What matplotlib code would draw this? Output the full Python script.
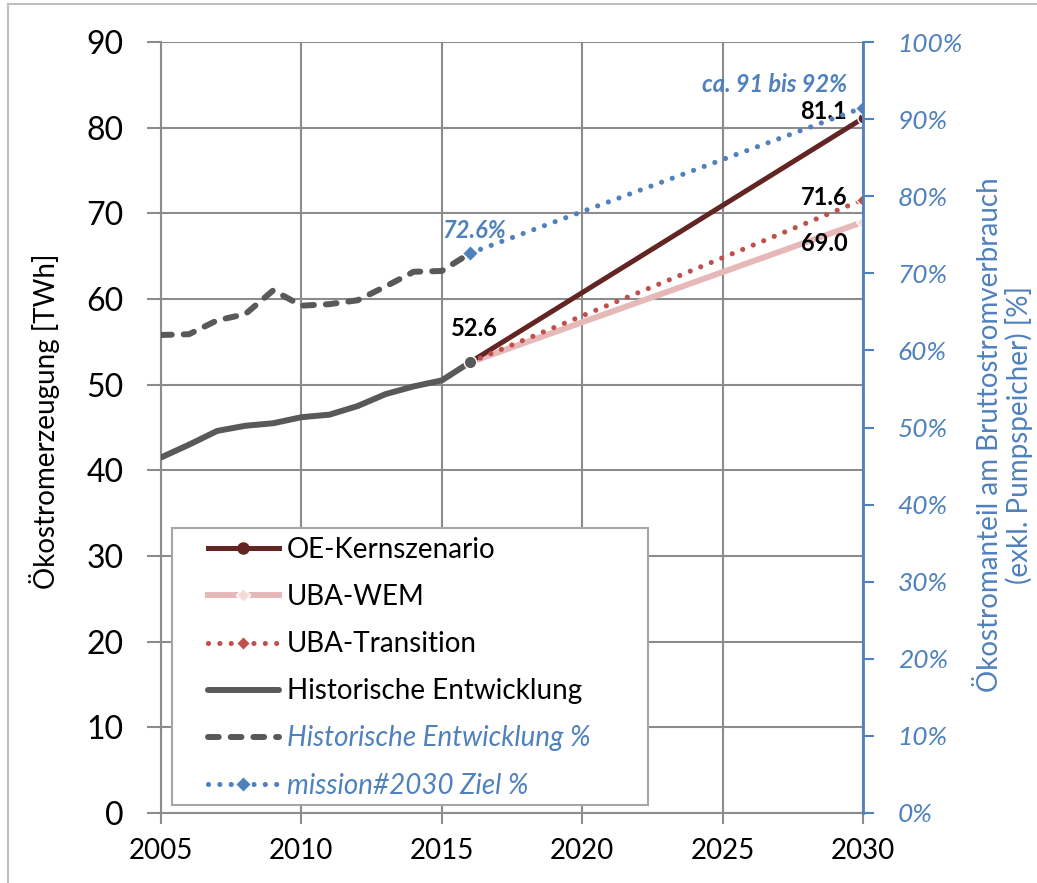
import matplotlib
matplotlib.use('Agg')
import matplotlib.pyplot as plt
from matplotlib.patches import Rectangle
from matplotlib.lines import Line2D
from matplotlib.ticker import FuncFormatter

plt.rcParams['font.family'] = ['Lato', 'DejaVu Sans']

# historische Entwicklung
hist_years = [2005, 2006, 2007, 2008, 2009, 2010, 2011, 2012, 2013, 2014, 2015, 2016]
hist_twh = [41.5, 43.0, 44.6, 45.2, 45.5, 46.2, 46.5, 47.5, 48.9, 49.8, 50.5, 52.6]
hist_pct = [62.0, 62.1, 63.9, 64.7, 67.8, 65.8, 66.0, 66.5, 68.3, 70.2, 70.3, 72.6]

# Szenarien
scen_years = [2016, 2030]
oe_kern = [52.6, 81.1]
uba_wem = [52.6, 69.0]
uba_trans = [52.6, 71.6]
ziel_pct = [72.6, 91.5]

labels = ['OE-Kernszenario', 'UBA-WEM', 'UBA-Transition', 'Historische Entwicklung',
          'Historische Entwicklung %', 'mission#2030 Ziel %']

grey = '#595959'
blue = '#4F81BD'
darkred = '#632523'
pink = '#E6B9B8'
pinkmk = '#F2DCDB'
red = '#C0504D'
gridc = '#8C8C8C'

fig = plt.figure(figsize=(10.37, 8.83), dpi=100)
fig.patches.append(Rectangle((8 / 1037, -0.1), 1.2, 1.1 - 4 / 883, transform=fig.transFigure,
                             fill=False, edgecolor='#BFBFBF', lw=1.5, clip_on=False))
ax = fig.add_axes([161 / 1037, 1 - 813 / 883, 702 / 1037, 771 / 883])
ax2 = ax.twinx()

dot = (0, (0.01, 2.2))
dash = (0, (1.8, 2.0))

ax.plot(scen_years, oe_kern, color=darkred, lw=3.6, marker='o', ms=8,
        mec='white', mew=1, markevery=[1], zorder=4)
ax.plot(scen_years, uba_wem, color=pink, lw=4.3, solid_capstyle='butt', marker='D', ms=7,
        mfc=pinkmk, mec='white', mew=1, markevery=[1], zorder=3)
ax.plot(scen_years, uba_trans, color=red, lw=3.7, ls=dot, dash_capstyle='round',
        marker='D', ms=7, mec='white', mew=1, markevery=[1], zorder=4)
ax.plot(hist_years, hist_twh, color=grey, lw=4.3, solid_capstyle='round', zorder=5)
ax.plot(hist_years[-1:], hist_twh[-1:], ls='none', color=grey, marker='o', ms=9,
        mec='white', mew=1, zorder=6)

ax2.plot(hist_years, hist_pct, color=grey, lw=4.3, ls=dash, dash_capstyle='round')
ax2.plot(scen_years, ziel_pct, color=blue, lw=3.7, ls=dot, dash_capstyle='round',
         marker='D', ms=8, mec='white', mew=1)

ax.set_xlim(2005, 2030)
ax.set_ylim(0, 90)
ax2.set_ylim(0, 100)
ax.set_xticks(range(2005, 2031, 5))
ax.set_yticks(range(0, 91, 10))
ax2.set_yticks(range(0, 101, 10))
ax2.yaxis.set_major_formatter(FuncFormatter(lambda v, p: f'{v:.0f}%'))

ax.grid(True, color=gridc, lw=1.5)
ax.set_axisbelow(True)
for sp in ['top', 'right']:
    ax.spines[sp].set_visible(False)
for sp in ['top', 'left', 'bottom']:
    ax2.spines[sp].set_visible(False)
for sp in ['left', 'bottom']:
    ax.spines[sp].set_color(gridc)
    ax.spines[sp].set_linewidth(1.5)
ax2.spines['right'].set_color(blue)
ax2.spines['right'].set_linewidth(2)

ax.tick_params(axis='y', labelsize=23, length=10, width=1.5, color=gridc, pad=17)
ax.tick_params(axis='x', labelsize=20, length=8, width=1.5, color=gridc, pad=10)
ax2.tick_params(axis='y', labelsize=19, length=8, width=1.5, color=blue,
                labelcolor=blue, pad=17)
for t in ax2.get_yticklabels():
    t.set_fontstyle('italic')

fig.text(45 / 1037, 1 - 421 / 883, 'Ökostromerzeugung [TWh]', rotation=90,
         ha='center', va='center', fontsize=20)
fig.text(1005 / 1037, 1 - 435 / 883,
         'Ökostromanteil am Bruttostromverbrauch\n(exkl. Pumpspeicher) [%]',
         rotation=90, ha='center', va='center', fontsize=20, color=blue,
         linespacing=1.1, multialignment='center')

ax.annotate('52.6', (2016, 52.6), xytext=(4, 34), textcoords='offset pixels',
            ha='center', va='center', fontsize=17, fontweight='bold')
ax.annotate('81.1', (2030, 81.1), xytext=(-39, 7), textcoords='offset pixels',
            ha='center', va='center', fontsize=17, fontweight='bold')
ax.annotate('71.6', (2030, 71.6), xytext=(-39, 2), textcoords='offset pixels',
            ha='center', va='center', fontsize=17, fontweight='bold')
ax.annotate('69.0', (2030, 69.0), xytext=(-39, -22), textcoords='offset pixels',
            ha='center', va='center', fontsize=17, fontweight='bold')
ax2.annotate('72.6%', (2016, 72.6), xytext=(4, 23), textcoords='offset pixels',
             ha='center', va='center', fontsize=17, fontweight='bold',
             fontstyle='italic', color=blue)
ax2.annotate('ca. 91 bis 92%', (2030, 91.5), xytext=(-88, 23), textcoords='offset pixels',
             ha='center', va='center', fontsize=17, fontweight='bold',
             fontstyle='italic', color=blue)

# legend box and entries
ax2.add_patch(Rectangle((11 / 702, 8 / 771), 476 / 702, 277 / 771, transform=ax2.transAxes,
                        facecolor='white', edgecolor='#A6A6A6', lw=1.5, zorder=10))
handles = [
    Line2D([], [], color=darkred, lw=3.6, marker='o', ms=8, mec=darkred),
    Line2D([], [], color=pink, lw=4.3, marker='D', ms=7, mfc=pinkmk, mec='white'),
    Line2D([], [], color=red, lw=3.7, ls=dot, dash_capstyle='round', marker='D', ms=7,
           mec='white'),
    Line2D([], [], color=grey, lw=4.3, solid_capstyle='round'),
    Line2D([], [], color=grey, lw=4.3, ls=dash, dash_capstyle='round'),
    Line2D([], [], color=blue, lw=3.7, ls=dot, dash_capstyle='round', marker='D', ms=8,
           mec='white'),
]
leg = ax2.legend(handles=handles, labels=labels, loc='upper left',
                 bbox_to_anchor=((208 - 161) / 702, (813 - 537) / 771),
                 borderaxespad=0, borderpad=0, fontsize=20, numpoints=1,
                 handlelength=2.55, handletextpad=0.3, labelspacing=0.76,
                 frameon=False)
leg.set_zorder(11)
for txt in leg.get_texts()[4:]:
    txt.set_color(blue)
    txt.set_fontstyle('italic')

fig.savefig('out.png', dpi=100)
